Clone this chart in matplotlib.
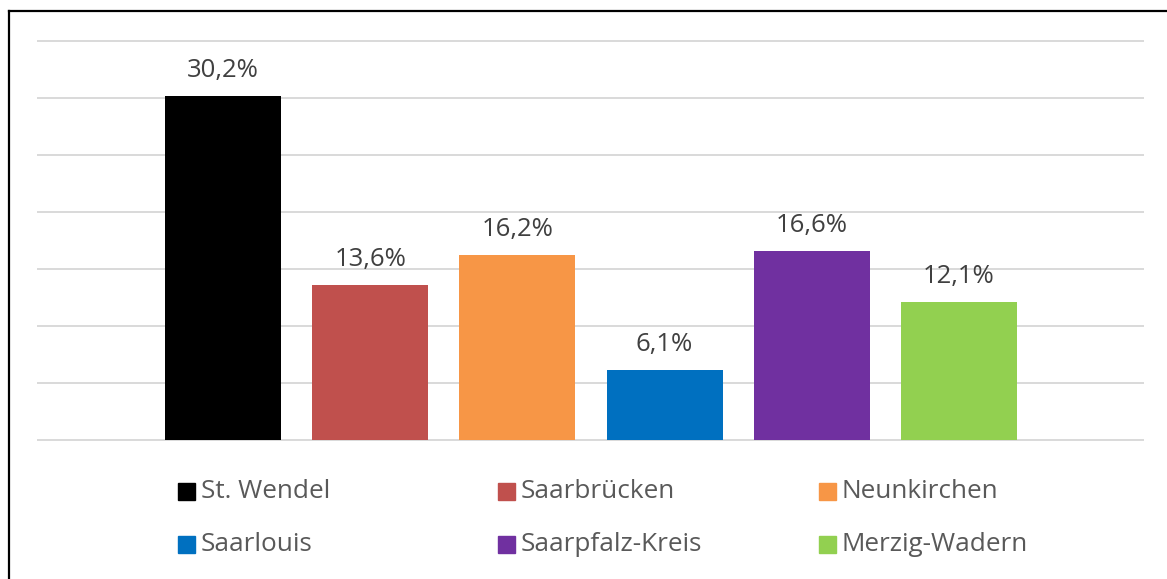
import matplotlib
matplotlib.use("Agg")
import matplotlib.pyplot as plt
from matplotlib.patches import Rectangle
from matplotlib.lines import Line2D

regions = ["St. Wendel", "Saarbrücken", "Neunkirchen", "Saarlouis", "Saarpfalz-Kreis", "Merzig-Wadern"]
values = [30.2, 13.6, 16.2, 6.1, 16.6, 12.1]
value_labels = ["30,2%", "13,6%", "16,2%", "6,1%", "16,6%", "12,1%"]
colors = ["#000000", "#C0504D", "#F79646", "#0070C0", "#7030A0", "#92D050"]

W, H = 1167, 579
fig = plt.figure(figsize=(W / 100, H / 100), dpi=100)
fig.patch.set_facecolor("white")

ax = fig.add_axes([38 / W, 1 - 440 / H, (1143 - 38) / W, (440 - 41) / H])
x = list(range(len(values)))
bars = ax.bar(x, values, width=116 / 147.2, color=colors, zorder=3)
ax.set_xlim(-185 / 147.2, 5 + 184 / 147.2)
ax.set_ylim(0, 35)
for yv in range(0, 36, 5):
    ax.axhline(yv, color="#D9D9D9", lw=1.4, zorder=1, clip_on=False)
for s in ax.spines.values():
    s.set_visible(False)
ax.set_xticks([])
ax.set_yticks([])
for xi, v, lab in zip(x, values, value_labels):
    ax.annotate(lab, (xi, v), xytext=(0, 18.5), textcoords="offset points",
                ha="center", va="center", fontsize=18.5, color="#404040",
                family="Open Sans")

# legend
col_x = [178, 498, 819]
row_y = [491, 544]
for i, (name, c) in enumerate(zip(regions, colors)):
    r, col = divmod(i, 3)
    sx, sy = col_x[col], row_y[r]
    fig.patches.append(Rectangle((sx / W, 1 - (sy + 8.5) / H), 17 / W, 17 / H,
                                 transform=fig.transFigure, color=c))
    fig.text((sx + 23) / W, 1 - (sy + 0.5) / H, name, ha="left", va="center",
             fontsize=18.8, color="#595959", family="Open Sans")

# outer border
fig.add_artist(Line2D([8.5 / W, 8.5 / W], [0, 1 - 10.5 / H], transform=fig.transFigure,
                      color="black", lw=1.6))
fig.add_artist(Line2D([8.5 / W, 1], [1 - 10.5 / H, 1 - 10.5 / H], transform=fig.transFigure,
                      color="black", lw=1.6))

fig.savefig("out.png", dpi=100)
